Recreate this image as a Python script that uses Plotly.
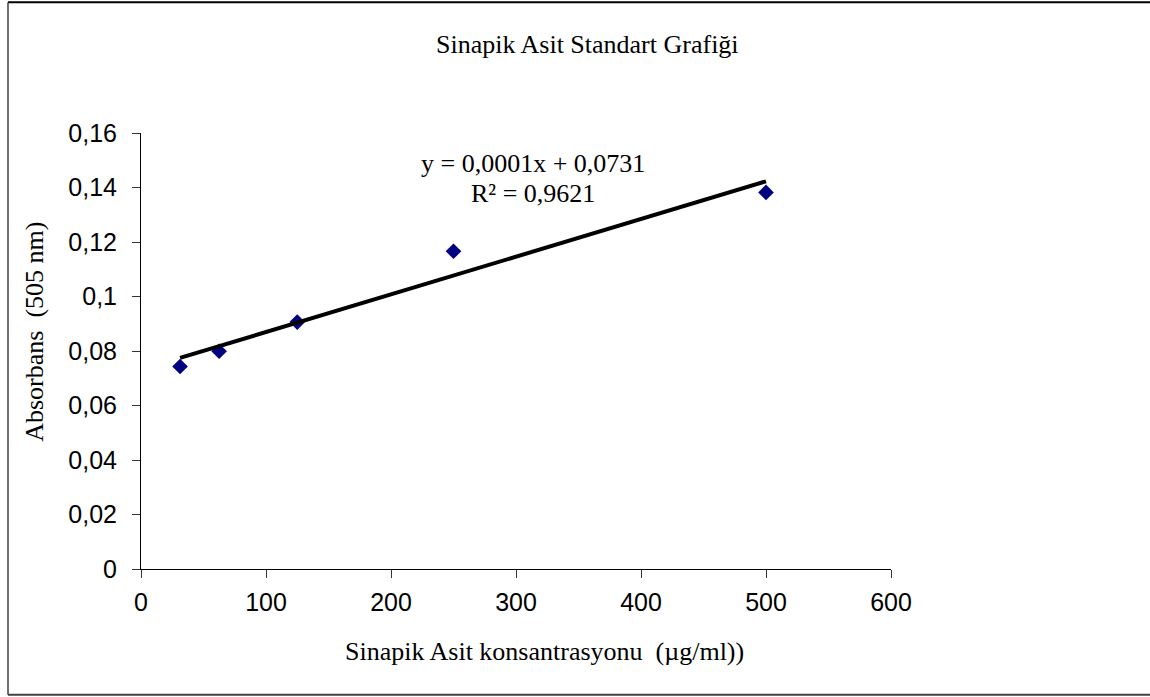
import numpy as np
import plotly.graph_objects as go

# ---- data ----
concentration = [31.25, 62.5, 125, 250, 500]          # µg/ml
absorbance = [0.0743, 0.0799, 0.0906, 0.1166, 0.1382]  # 505 nm

x_ticks = [0, 100, 200, 300, 400, 500, 600]
y_ticks = [0, 0.02, 0.04, 0.06, 0.08, 0.10, 0.12, 0.14, 0.16]
y_tick_text = ["0", "0,02", "0,04", "0,06", "0,08", "0,1", "0,12", "0,14", "0,16"]

title_text = "Sinapik Asit Standart Grafiği"
x_title = "Sinapik Asit konsantrasyonu  (µg/ml))"
y_title = "Absorbans  (505 nm)"
eq_line1 = "y = 0,0001x + 0,0731"
eq_line2 = "R² = 0,9621"

# linear trendline fitted from the data
slope, intercept = np.polyfit(concentration, absorbance, 1)
trend_x = [min(concentration), max(concentration)]
trend_y = [slope * v + intercept for v in trend_x]

# ---- layout geometry (pixels) ----
W, H = 1150, 697
L, R, T, B = 141, 891, 133, 569.5  # plot area edges


def px(xp):
    return (xp - L) / (R - L)


def py(yp):
    return (B - yp) / (B - T)


serif = "Liberation Serif, Times New Roman, serif"
sans = "Liberation Sans, Arial, sans-serif"

fig = go.Figure()
fig.add_trace(go.Scatter(
    x=concentration, y=absorbance, mode="markers",
    marker=dict(symbol="diamond", size=12, color="#000080"),
    showlegend=False, hoverinfo="x+y"))
fig.add_trace(go.Scatter(
    x=trend_x, y=trend_y, mode="lines",
    line=dict(color="black", width=4),
    showlegend=False, hoverinfo="skip"))

axis_common = dict(
    showgrid=False, zeroline=False, showline=True, linecolor="black", linewidth=1,
    ticks="outside", ticklen=8, tickcolor="#333333", tickwidth=1,
    tickfont=dict(family=sans, size=25, color="black"),
    mirror=False,
)

fig.update_layout(
    width=W, height=H,
    margin=dict(l=L, r=W - R, t=T, b=H - B, pad=0),
    paper_bgcolor="white", plot_bgcolor="white",
    xaxis=dict(range=[0, 600], tickvals=x_ticks, ticklabelstandoff=3, **axis_common),
    yaxis=dict(range=[0, 0.16], tickvals=y_ticks, ticktext=y_tick_text,
               ticklabelstandoff=10, **axis_common),
    showlegend=False,
)

fig.add_annotation(text=title_text, xref="paper", yref="paper",
                   x=px(587), y=py(44), xanchor="center", yanchor="middle",
                   showarrow=False, font=dict(family=serif, size=26, color="black"))
fig.add_annotation(text=x_title, xref="paper", yref="paper",
                   x=px(544), y=py(652), xanchor="center", yanchor="middle",
                   showarrow=False, font=dict(family=serif, size=26, color="black"))
fig.add_annotation(text=y_title, xref="paper", yref="paper",
                   x=px(35), y=py(332), xanchor="center", yanchor="middle", textangle=-90,
                   showarrow=False, font=dict(family=serif, size=26, color="black"))
fig.add_annotation(text=eq_line1, xref="paper", yref="paper",
                   x=px(533), y=py(164), xanchor="center", yanchor="middle",
                   showarrow=False, font=dict(family=serif, size=26, color="black"))
fig.add_annotation(text=eq_line2, xref="paper", yref="paper",
                   x=px(533), y=py(194), xanchor="center", yanchor="middle",
                   showarrow=False, font=dict(family=serif, size=26, color="black"))

# outer chart border (open on the right)
fig.add_shape(type="line", xref="paper", yref="paper",
              x0=px(8), y0=py(2), x1=px(W + 5), y1=py(2),
              line=dict(color="black", width=2))
fig.add_shape(type="line", xref="paper", yref="paper",
              x0=px(8), y0=py(695.5), x1=px(W + 5), y1=py(695.5),
              line=dict(color="#404040", width=2))
fig.add_shape(type="line", xref="paper", yref="paper",
              x0=px(8), y0=py(2), x1=px(8), y1=py(695.5),
              line=dict(color="#404040", width=1.5))

fig.write_html("out.html")
